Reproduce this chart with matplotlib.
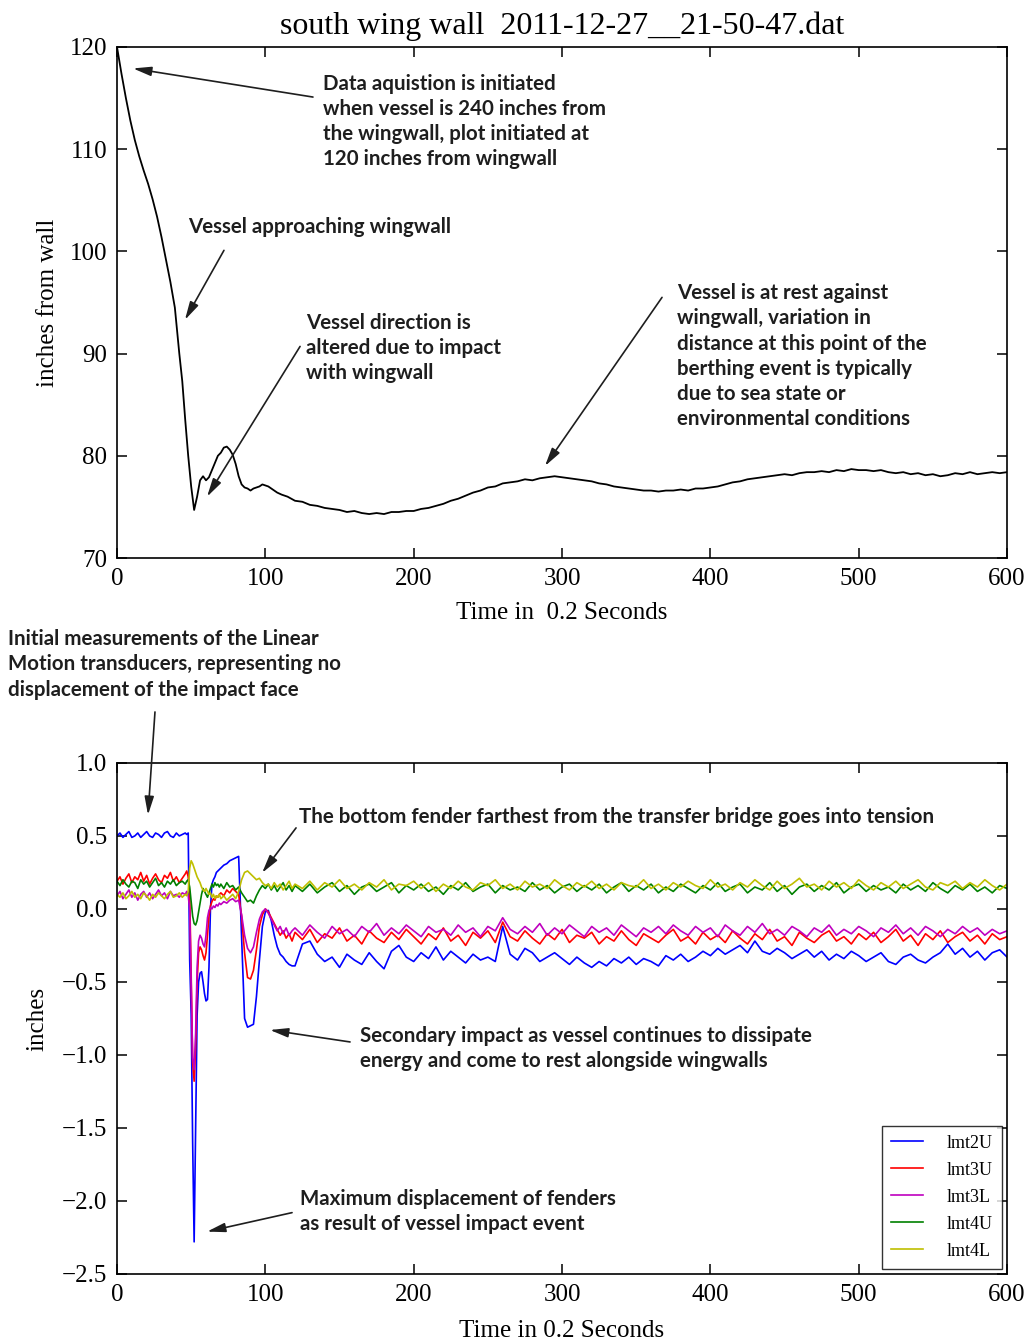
"""
wing wall berthing event - distance and LMT displacement plots
"""

import matplotlib
matplotlib.use("Agg")
import matplotlib.pyplot as plt

#############################
# DATA
#############################

title_txt = "south wing wall  2011-12-27__21-50-47.dat"

# distance from wall (inches) vs time (0.2 s steps)
t_top = [0, 3, 6, 9, 12, 15, 18, 21, 24, 27, 30, 33, 36, 39, 42, 44, 46, 48, 50, 52,
         54, 56, 58, 60, 62, 64, 66, 68, 70, 72, 74, 76, 78, 80, 82, 84, 86, 88, 90, 92,
         94, 96, 98, 100, 102, 105, 108, 111, 115,
         120, 125, 130, 135, 140, 145, 150, 155, 160, 165,
         170, 175, 180, 185, 190, 195, 200, 205, 210, 215,
         220, 225, 230, 235, 240, 245, 250, 255, 260, 265,
         270, 275, 280, 285, 290, 295, 300, 305, 310, 315,
         320, 325, 330, 335, 340, 345, 350, 355, 360, 365,
         370, 375, 380, 385, 390, 395, 400, 405, 410, 415,
         420, 425, 430, 435, 440, 445, 450, 455, 460, 465,
         470, 475, 480, 485, 490, 495, 500, 505, 510, 515,
         520, 525, 530, 535, 540, 545, 550, 555, 560, 565,
         570, 575, 580, 585, 590, 595, 600]
dist_top = [120.0, 117.4, 115.0, 112.8, 110.9, 109.3, 107.9, 106.6, 105.1, 103.4,
            101.4, 99.2, 97.0, 94.5, 90.0, 87.3, 83.5, 80.0, 77.0, 74.7,
            76.0, 77.6, 78.0, 77.6, 77.9, 78.6, 79.3, 80.0, 80.3, 80.8,
            80.9, 80.6, 80.1, 79.2, 78.0, 77.2, 76.9, 76.8, 76.6, 76.8,
            76.9, 77.0, 77.2, 77.1, 77.0, 76.7, 76.4, 76.2, 76.0,
            75.6, 75.5, 75.2, 75.1, 74.9, 74.8, 74.7, 74.5, 74.6, 74.4,
            74.3, 74.4, 74.3, 74.5, 74.5, 74.6, 74.6, 74.8, 74.9, 75.1,
            75.3, 75.6, 75.8, 76.1, 76.4, 76.6, 76.9, 77.0, 77.3, 77.4,
            77.5, 77.7, 77.6, 77.8, 77.9, 78.0, 77.9, 77.8, 77.7, 77.6,
            77.5, 77.3, 77.2, 77.0, 76.9, 76.8, 76.7, 76.6, 76.6, 76.5,
            76.6, 76.6, 76.7, 76.6, 76.8, 76.8, 76.9, 77.0, 77.2, 77.4,
            77.5, 77.7, 77.8, 77.9, 78.0, 78.1, 78.2, 78.1, 78.3, 78.4,
            78.4, 78.5, 78.4, 78.6, 78.5, 78.7, 78.6, 78.6, 78.5, 78.6,
            78.4, 78.3, 78.4, 78.2, 78.3, 78.1, 78.2, 78.0, 78.1, 78.3,
            78.2, 78.4, 78.2, 78.3, 78.4, 78.3, 78.4]

# linear motion transducers (inches) - time grid
t_lmt = (list(range(0, 46, 2)) + list(range(46, 70, 1))
         + list(range(70, 120, 2)) + list(range(120, 601, 5)))

lmt2U = [0.50, 0.52, 0.49, 0.51, 0.53, 0.49, 0.50, 0.52, 0.49, 0.51, 0.53, 0.50,
         0.49, 0.52, 0.51, 0.49, 0.52, 0.53, 0.50, 0.49, 0.52, 0.50, 0.51,
         # 46 .. 69
         0.52, 0.51, 0.52, -0.35, -0.72, -1.60, -2.28, -1.50, -0.73, -0.50, -0.44, -0.43,
         -0.50, -0.58, -0.63, -0.62, -0.40, 0.00, 0.17, 0.20, 0.22, 0.25, 0.26, 0.27,
         # 70 .. 118
         0.28, 0.30, 0.31, 0.33, 0.34, 0.35, 0.36, -0.20, -0.75, -0.81, -0.80, -0.79,
         -0.60, -0.35, -0.12, -0.02, -0.01, -0.08, -0.18, -0.26, -0.31, -0.33, -0.36,
         -0.38, -0.39,
         # 120 .. 600
         -0.39, -0.24, -0.22, -0.31, -0.36, -0.33, -0.40, -0.31, -0.35, -0.38,
         -0.30, -0.36, -0.41, -0.29, -0.25, -0.33, -0.36, -0.30, -0.34, -0.26,
         -0.35, -0.29, -0.33, -0.37, -0.31, -0.35, -0.33, -0.36, -0.12, -0.31,
         -0.35, -0.27, -0.30, -0.36, -0.33, -0.30, -0.34, -0.38, -0.33, -0.37,
         -0.40, -0.36, -0.39, -0.34, -0.37, -0.33, -0.38, -0.34, -0.36, -0.39,
         -0.32, -0.35, -0.31, -0.36, -0.33, -0.29, -0.32, -0.27, -0.31, -0.28,
         -0.25, -0.30, -0.22, -0.29, -0.31, -0.27, -0.30, -0.34, -0.31, -0.28,
         -0.33, -0.29, -0.35, -0.31, -0.34, -0.29, -0.32, -0.36, -0.33, -0.30,
         -0.36, -0.38, -0.33, -0.31, -0.35, -0.37, -0.33, -0.30, -0.24, -0.31,
         -0.27, -0.33, -0.29, -0.35, -0.30, -0.28, -0.33]

lmt3U = [0.19, 0.22, 0.17, 0.21, 0.24, 0.18, 0.22, 0.20, 0.25, 0.19, 0.23, 0.17,
         0.21, 0.24, 0.20, 0.18, 0.23, 0.21, 0.25, 0.19, 0.22, 0.18, 0.21,
         0.24, 0.26, 0.22, 0.10, -0.45, -1.05, -1.18, -0.95, -0.50, -0.30, -0.26, -0.28,
         -0.32, -0.35, -0.30, -0.18, -0.05, 0.02, 0.05, 0.07, 0.06, 0.09, 0.08, 0.10,
         0.11, 0.09, 0.13, 0.11, 0.14, 0.12, 0.10, -0.05, -0.30, -0.47, -0.48, -0.42,
         -0.28, -0.12, -0.04, 0.00, -0.02, -0.06, -0.10, -0.14, -0.18, -0.15, -0.20,
         -0.17, -0.22,
         -0.16, -0.21, -0.14, -0.23, -0.17, -0.20, -0.13, -0.22, -0.18, -0.24,
         -0.15, -0.20, -0.23, -0.16, -0.21, -0.14, -0.19, -0.24, -0.17, -0.21,
         -0.13, -0.22, -0.18, -0.25, -0.16, -0.20, -0.15, -0.23, -0.09, -0.19,
         -0.22, -0.15, -0.20, -0.24, -0.17, -0.21, -0.14, -0.23, -0.18, -0.20,
         -0.16, -0.24, -0.19, -0.22, -0.15, -0.21, -0.25, -0.17, -0.20, -0.23,
         -0.18, -0.14, -0.22, -0.19, -0.24, -0.16, -0.21, -0.18, -0.23, -0.15,
         -0.20, -0.24, -0.17, -0.21, -0.14, -0.22, -0.19, -0.25, -0.16, -0.20,
         -0.23, -0.18, -0.15, -0.22, -0.19, -0.24, -0.17, -0.21, -0.16, -0.23,
         -0.19, -0.14, -0.22, -0.18, -0.25, -0.17, -0.21, -0.15, -0.23, -0.19,
         -0.16, -0.22, -0.18, -0.24, -0.17, -0.21, -0.19]

lmt3L = [0.09, 0.12, 0.07, 0.10, 0.13, 0.08, 0.11, 0.06, 0.10, 0.12, 0.08, 0.11,
         0.07, 0.10, 0.13, 0.09, 0.11, 0.07, 0.12, 0.09, 0.10, 0.08, 0.11,
         0.10, 0.12, 0.09, 0.00, -0.50, -1.02, -1.10, -0.85, -0.40, -0.22, -0.18, -0.20,
         -0.24, -0.26, -0.18, -0.06, -0.01, 0.01, 0.00, 0.02, 0.01, 0.03, 0.02, 0.04,
         0.03, 0.05, 0.04, 0.06, 0.07, 0.05, 0.06, -0.04, -0.18, -0.27, -0.30, -0.26,
         -0.16, -0.07, -0.02, 0.00, -0.03, -0.07, -0.11, -0.15, -0.12, -0.17, -0.13,
         -0.18, -0.15,
         -0.13, -0.18, -0.11, -0.16, -0.20, -0.12, -0.17, -0.14, -0.19, -0.12,
         -0.16, -0.10, -0.18, -0.13, -0.17, -0.11, -0.15, -0.19, -0.12, -0.16,
         -0.14, -0.18, -0.11, -0.16, -0.13, -0.19, -0.12, -0.15, -0.06, -0.14,
         -0.17, -0.12, -0.16, -0.10, -0.18, -0.13, -0.17, -0.11, -0.15, -0.19,
         -0.12, -0.16, -0.13, -0.18, -0.11, -0.15, -0.19, -0.13, -0.16, -0.12,
         -0.17, -0.11, -0.15, -0.18, -0.12, -0.16, -0.13, -0.19, -0.11, -0.15,
         -0.18, -0.12, -0.16, -0.10, -0.17, -0.14, -0.18, -0.12, -0.15, -0.19,
         -0.13, -0.16, -0.11, -0.18, -0.14, -0.17, -0.12, -0.15, -0.19, -0.13,
         -0.16, -0.11, -0.17, -0.13, -0.18, -0.12, -0.15, -0.19, -0.14, -0.17,
         -0.12, -0.16, -0.13, -0.18, -0.14, -0.17, -0.15]

lmt4U = [0.19, 0.16, 0.20, 0.17, 0.15, 0.19, 0.18, 0.14, 0.20, 0.17, 0.19, 0.15,
         0.18, 0.21, 0.16, 0.18, 0.15, 0.19, 0.17, 0.20, 0.16, 0.18, 0.19,
         0.17, 0.19, 0.20, 0.15, 0.05, -0.05, -0.10, -0.11, -0.08, -0.02, 0.04, 0.10,
         0.14, 0.12, 0.10, 0.08, 0.11, 0.14, 0.17, 0.15, 0.18, 0.16, 0.17, 0.15,
         0.17, 0.14, 0.18, 0.15, 0.16, 0.13, 0.15, 0.11, 0.08, 0.05, 0.06, 0.04,
         0.09, 0.13, 0.16, 0.14, 0.17, 0.13, 0.16, 0.12, 0.15, 0.18, 0.13, 0.16, 0.12,
         0.16, 0.12, 0.17, 0.11, 0.15, 0.18, 0.12, 0.16, 0.10, 0.15,
         0.17, 0.12, 0.15, 0.18, 0.11, 0.16, 0.13, 0.17, 0.12, 0.15,
         0.10, 0.16, 0.13, 0.18, 0.12, 0.15, 0.17, 0.11, 0.16, 0.13,
         0.15, 0.12, 0.18, 0.13, 0.16, 0.11, 0.15, 0.17, 0.12, 0.16,
         0.13, 0.17, 0.11, 0.15, 0.18, 0.12, 0.16, 0.13, 0.17, 0.11,
         0.15, 0.12, 0.17, 0.14, 0.11, 0.16, 0.13, 0.18, 0.12, 0.15,
         0.17, 0.11, 0.15, 0.13, 0.18, 0.12, 0.16, 0.10, 0.15, 0.17,
         0.12, 0.16, 0.13, 0.18, 0.11, 0.15, 0.17, 0.12, 0.16, 0.13,
         0.15, 0.11, 0.17, 0.13, 0.16, 0.12, 0.18, 0.14, 0.11, 0.16,
         0.13, 0.17, 0.12, 0.15, 0.11, 0.16, 0.14]

lmt4L = [0.10, 0.08, 0.11, 0.07, 0.09, 0.12, 0.08, 0.10, 0.07, 0.11, 0.09, 0.06,
         0.10, 0.08, 0.11, 0.09, 0.07, 0.10, 0.12, 0.08, 0.09, 0.11, 0.08,
         0.10, 0.09, 0.12, 0.28, 0.33, 0.31, 0.28, 0.25, 0.22, 0.20, 0.18, 0.15,
         0.13, 0.12, 0.14, 0.12, 0.10, 0.11, 0.08, 0.10, 0.07, 0.09, 0.08, 0.10,
         0.07, 0.09, 0.06, 0.08, 0.10, 0.07, 0.12, 0.20, 0.25, 0.26, 0.24, 0.22,
         0.20, 0.21, 0.18, 0.16, 0.17, 0.14, 0.18, 0.15, 0.17, 0.13, 0.16, 0.19, 0.14,
         0.17, 0.14, 0.19, 0.13, 0.18, 0.15, 0.20, 0.14, 0.17, 0.13,
         0.18, 0.15, 0.20, 0.13, 0.17, 0.16, 0.19, 0.14, 0.18, 0.12,
         0.17, 0.14, 0.19, 0.15, 0.13, 0.18, 0.16, 0.20, 0.14, 0.17,
         0.13, 0.19, 0.15, 0.17, 0.14, 0.20, 0.16, 0.13, 0.18, 0.15,
         0.19, 0.14, 0.17, 0.13, 0.18, 0.16, 0.15, 0.20, 0.14, 0.17,
         0.13, 0.18, 0.15, 0.19, 0.16, 0.14, 0.20, 0.15, 0.17, 0.13,
         0.18, 0.15, 0.20, 0.16, 0.13, 0.19, 0.14, 0.17, 0.21, 0.15,
         0.17, 0.13, 0.19, 0.15, 0.18, 0.14, 0.20, 0.16, 0.13, 0.18,
         0.15, 0.19, 0.14, 0.17, 0.20, 0.15, 0.13, 0.18, 0.16, 0.19,
         0.14, 0.18, 0.15, 0.20, 0.16, 0.13, 0.17]

lmt_names = ["lmt2U", "lmt3U", "lmt3L", "lmt4U", "lmt4L"]
lmt_colors = ["b", "r", "m", "g", "y"]

#############################
# STYLE
#############################

plt.rcParams["font.family"] = ["Liberation Serif", "DejaVu Serif"]
plt.rcParams["axes.linewidth"] = 1.2
for ax_name in ["xtick", "ytick"]:
    plt.rcParams[ax_name + ".direction"] = "in"
    plt.rcParams[ax_name + ".major.size"] = 7
    plt.rcParams[ax_name + ".major.width"] = 1.1
    plt.rcParams[ax_name + ".major.pad"] = 7
    plt.rcParams[ax_name + ".labelsize"] = 18
plt.rcParams["xtick.top"] = True
plt.rcParams["ytick.right"] = True

note_font = dict(family=["Lato", "DejaVu Sans"], size=14.8, weight="bold",
                 color="#1e1e1e", linespacing=1.33)
arrow_kw = dict(arrowstyle="-|>,head_length=0.55,head_width=0.14",
                color="#1e1e1e", lw=1.2, shrinkA=0, shrinkB=0, mutation_scale=20)


def note(ax, txt, pos, tail, head):
    ax.text(pos[0], pos[1], txt, ha="left", va="top", **note_font)
    ax.annotate("", xy=head, xytext=tail, arrowprops=arrow_kw, annotation_clip=False)


#############################
# MAIN
#############################

fig = plt.figure(figsize=(10.29, 13.42), dpi=100)

# top - distance from wall
ax1 = fig.add_axes([0.1137, 0.5842, 0.865, 0.3808])
ax1.plot(t_top, dist_top, color="k", lw=1.3)
ax1.set_xlim(0, 600)
ax1.set_ylim(70, 120)
ax1.set_title(title_txt, fontsize=23, pad=9)
ax1.set_xlabel("Time in  0.2 Seconds", fontsize=18, labelpad=9)
ax1.set_ylabel("inches from wall", fontsize=18, labelpad=8)

note(ax1, "Data aquistion is initiated\nwhen vessel is 240 inches from\n"
          "the wingwall, plot initiated at\n120 inches from wingwall",
     (138.9, 117.4), (132.1, 115.1), (10.8, 117.9))
note(ax1, "Vessel approaching wingwall", (47.9, 103.4), (72.1, 100.1), (45.8, 93.3))
note(ax1, "Vessel direction is\naltered due to impact\nwith wingwall",
     (127.4, 94.0), (123.4, 90.7), (60.7, 76.0))
note(ax1, "Vessel is at rest against\nwingwall, variation in\n"
          "distance at this point of the\nberthing event is typically\n"
          "due to sea state or\nenvironmental conditions",
     (377.5, 96.9), (367.4, 95.5), (288.5, 79.0))

# bottom - linear motion transducers
ax2 = fig.add_axes([0.1137, 0.0507, 0.865, 0.3808])
for vals, name, col in zip([lmt2U, lmt3U, lmt3L, lmt4U, lmt4L], lmt_names, lmt_colors):
    ax2.plot(t_lmt, vals, color=col, lw=1.2, label=name)
ax2.set_xlim(0, 600)
ax2.set_ylim(-2.5, 1.0)
ax2.set_xlabel("Time in 0.2 Seconds", fontsize=18, labelpad=10)
ax2.set_ylabel("inches", fontsize=18, labelpad=10)
leg = ax2.legend(loc="lower right", fontsize=13, fancybox=False, borderaxespad=0.3,
                 handlelength=1.8, labelspacing=0.55, borderpad=0.5, handletextpad=1.3)
leg.get_frame().set_edgecolor("k")
leg.get_frame().set_linewidth(1.0)

fig.text(8 / 1029, 1 - 629 / 1342,
         "Initial measurements of the Linear\nMotion transducers, representing no\n"
         "displacement of the impact face", ha="left", va="top", **note_font)
ax2.annotate("", xy=(20.9, 0.644), xytext=(25.6, 1.349), arrowprops=arrow_kw,
             annotation_clip=False)

note(ax2, "The bottom fender farthest from the transfer bridge goes into tension",
     (122.7, 0.70), (120.7, 0.555), (97.8, 0.247))
note(ax2, "Secondary impact as vessel continues to dissipate\n"
          "energy and come to rest alongside wingwalls",
     (163.8, -0.80), (157.1, -0.911), (103.1, -0.829))
note(ax2, "Maximum displacement of fenders\nas result of vessel impact event",
     (123.4, -1.915), (118.0, -2.08), (60.7, -2.21))

fig.savefig("out.png", dpi=100)
plt.close(fig)
